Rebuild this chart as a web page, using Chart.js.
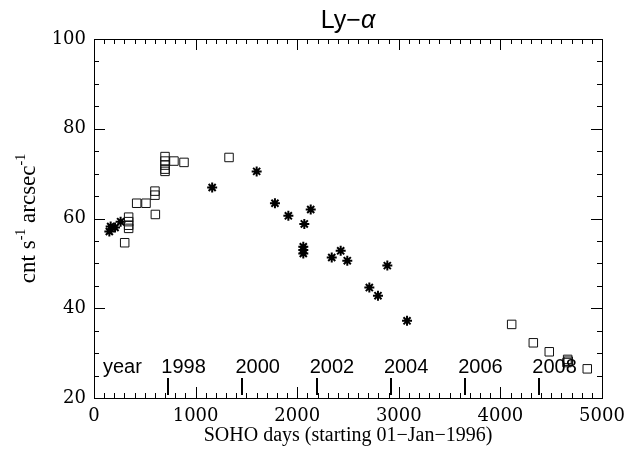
<!DOCTYPE html>
<html>
<head>
<meta charset="utf-8">
<script src="https://cdn.jsdelivr.net/npm/chart.js@4"></script>
<style>
  html, body { margin: 0; padding: 0; background: #fff; }
  #wrap { width: 642px; height: 461px; }
</style>
</head>
<body>
<div id="wrap"><canvas id="lyChart" width="642" height="461"></canvas></div>
<script>
// SOHO days (since 01-Jan-1996) and counts
const squareDays = [302, 341, 341, 341, 341, 420, 512, 604, 600, 600, 699, 699, 699, 699, 699, 787, 886, 1329,
                    4111, 4324, 4481, 4662, 4668, 4655, 4855];
const squareVals = [54.6, 60.3, 59.3, 58.5, 57.8, 63.4, 63.4, 60.9, 66.1, 65.2, 73.8, 72.8, 71.9, 71.0, 70.5, 72.8, 72.5, 73.6,
                    36.4, 32.3, 30.3, 28.6, 28.2, 27.9, 26.5];

const starDays = [151, 164, 207, 262, 1163, 1601, 1781, 1913, 2070, 2133, 2060, 2060, 2060, 2340, 2428, 2493, 2710, 2795, 2887, 3081];
const starVals = [57.1, 58.2, 58.0, 59.3, 66.9, 70.5, 63.4, 60.6, 58.8, 62.0, 53.7, 53.0, 52.2, 51.3, 52.8, 50.6, 44.6, 42.8, 49.5, 37.2];

// year markers: day number of 01-Jan of each year
const yearLabels = ['1998', '2000', '2002', '2004', '2006', '2008'];
const yearDays = [731, 1461, 2192, 2922, 3653, 4383];

const xRange = [0, 5000];
const yRange = [20, 100];

const toPoints = (xs, ys) => xs.map((x, i) => ({ x: x, y: ys[i] }));

const serif = '"Liberation Serif", "DejaVu Serif", serif';
const tickFont = '"DejaVu Serif", serif';
const sans = '"Liberation Sans", "DejaVu Sans", sans-serif';

// IDL style frame: box, inward ticks, year marks and titles
const idlFrame = {
    id: 'idlFrame',
    afterDraw(chart) {
        const ctx = chart.ctx;
        const area = chart.chartArea;
        const xs = chart.scales.x;
        const ys = chart.scales.y;
        const L = Math.round(area.left), R = Math.round(area.right);
        const T = Math.round(area.top), B = Math.round(area.bottom);
        ctx.save();
        ctx.fillStyle = '#000';
        // box
        ctx.fillRect(L, T, R - L + 1, 1);
        ctx.fillRect(L, B, R - L + 1, 1);
        ctx.fillRect(L, T, 1, B - T + 1);
        ctx.fillRect(R, T, 1, B - T + 1);

        // inward ticks on all four sides
        for (let v = xRange[0]; v <= xRange[1]; v += 100) {
            const px = Math.round(xs.getPixelForValue(v));
            const len = v % 1000 === 0 ? 11 : 5;
            ctx.fillRect(px, B - len, 1, len);
            ctx.fillRect(px, T, 1, len);
        }
        for (let v = yRange[0]; v <= yRange[1]; v += 5) {
            const py = Math.round(ys.getPixelForValue(v));
            const len = v % 20 === 0 ? 11 : 5;
            ctx.fillRect(L, py, len, 1);
            ctx.fillRect(R - len, py, len, 1);
        }

        // year marks
        yearDays.forEach(d => {
            const px = Math.round(xs.getPixelForValue(d));
            ctx.fillRect(px - 1, B - 20, 2, 17);
        });

        ctx.font = '20px ' + sans;
        ctx.textAlign = 'left';
        ctx.textBaseline = 'alphabetic';
        ctx.fillText('year', L + 9, B - 25);
        yearLabels.forEach((lab, i) => {
            const px = xs.getPixelForValue(yearDays[i]);
            ctx.fillText(lab, px - 7, B - 25);
        });

        // title, alpha in italic
        const midX = (L + R) / 2;
        ctx.font = '25px ' + sans;
        const t1 = 'Ly\u2212';
        const w1 = ctx.measureText(t1).width;
        ctx.font = 'italic 25px ' + sans;
        const w2 = ctx.measureText('\u03b1').width;
        const tx = midX - (w1 + w2) / 2;
        ctx.font = '25px ' + sans;
        ctx.fillText(t1, tx, 28);
        ctx.font = 'italic 25px ' + sans;
        ctx.fillText('\u03b1', tx + w1, 28);

        // x title
        ctx.font = '20px ' + serif;
        ctx.textAlign = 'center';
        ctx.fillText('SOHO days (starting 01\u2212Jan\u22121996)', midX, 441);

        // y title with superscripts
        ctx.translate(35, (T + B) / 2);
        ctx.rotate(-Math.PI / 2);
        const parts = [['cnt s', false], ['-1', true], [' arcsec', false], ['-1', true]];
        const big = '23px ' + serif, small = '14px ' + serif;
        let total = 0;
        parts.forEach(p => { ctx.font = p[1] ? small : big; total += ctx.measureText(p[0]).width; });
        let cx = -total / 2;
        ctx.textAlign = 'left';
        parts.forEach(p => {
            ctx.font = p[1] ? small : big;
            ctx.fillText(p[0], cx, p[1] ? -10 : 0);
            cx += ctx.measureText(p[0]).width;
        });
        ctx.restore();
    }
};

new Chart(document.getElementById('lyChart'), {
    type: 'scatter',
    data: {
        datasets: [
            {
                label: 'squares',
                data: toPoints(squareDays, squareVals),
                pointStyle: 'rect',
                pointRadius: 6,
                borderColor: '#111',
                backgroundColor: 'rgba(0,0,0,0)',
                borderWidth: 1
            },
            {
                label: 'stars',
                data: toPoints(starDays, starVals),
                pointStyle: 'star',
                pointRadius: 5,
                borderColor: '#000',
                backgroundColor: '#000',
                borderWidth: 2
            }
        ]
    },
    options: {
        responsive: false,
        animation: false,
        devicePixelRatio: 1,
        layout: { padding: { left: 0, top: 39, right: 40, bottom: 0 } },
        plugins: {
            legend: { display: false },
            tooltip: { enabled: false }
        },
        scales: {
            x: {
                type: 'linear',
                min: xRange[0],
                max: xRange[1],
                grid: { display: false, drawTicks: false },
                border: { display: false },
                ticks: {
                    stepSize: 1000,
                    padding: 8,
                    color: '#000',
                    maxRotation: 0,
                    font: { family: tickFont, size: 18 },
                    callback: (value) => String(value)
                },
                afterFit: (scale) => { scale.height = 63; }
            },
            y: {
                min: yRange[0],
                max: yRange[1],
                grid: { display: false, drawTicks: false },
                border: { display: false },
                ticks: {
                    stepSize: 20,
                    padding: 8,
                    color: '#000',
                    font: { family: tickFont, size: 18 },
                    callback: (value) => String(value)
                },
                afterFit: (scale) => { scale.width = 94; }
            }
        }
    },
    plugins: [idlFrame]
});
</script>
</body>
</html>
